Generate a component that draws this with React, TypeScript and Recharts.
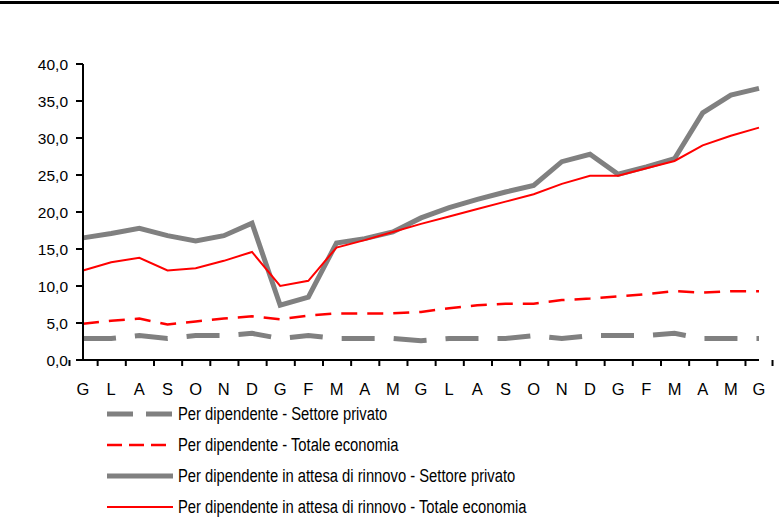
import React from 'react';
import { LineChart, Line, XAxis, YAxis } from 'recharts';

const mesi = ['G', 'L', 'A', 'S', 'O', 'N', 'D', 'G', 'F', 'M', 'A', 'M', 'G', 'L', 'A', 'S', 'O', 'N', 'D', 'G', 'F', 'M', 'A', 'M', 'G'];

// Per dipendente - Settore privato
const perDipPrivato = [2.9, 2.9, 3.3, 2.9, 3.3, 3.3, 3.6, 2.9, 3.3, 2.9, 2.9, 2.9, 2.6, 2.9, 2.9, 2.9, 3.3, 2.9, 3.3, 3.3, 3.3, 3.6, 2.9, 2.9, 2.9];
// Per dipendente - Totale economia
const perDipTotale = [4.9, 5.3, 5.6, 4.8, 5.2, 5.6, 5.9, 5.5, 6.0, 6.3, 6.3, 6.3, 6.5, 7.0, 7.4, 7.6, 7.6, 8.1, 8.3, 8.6, 8.9, 9.3, 9.1, 9.3, 9.3];
// Per dipendente in attesa di rinnovo - Settore privato
const attesaPrivato = [16.5, 17.1, 17.8, 16.8, 16.1, 16.8, 18.5, 7.4, 8.5, 15.8, 16.4, 17.3, 19.2, 20.6, 21.7, 22.7, 23.6, 26.8, 27.8, 25.1, 26.1, 27.2, 33.4, 35.8, 36.7];
// Per dipendente in attesa di rinnovo - Totale economia
const attesaTotale = [12.1, 13.2, 13.8, 12.1, 12.4, 13.4, 14.6, 10.0, 10.7, 15.2, 16.2, 17.3, 18.4, 19.4, 20.4, 21.4, 22.4, 23.8, 24.9, 24.9, 25.9, 26.9, 29.0, 30.3, 31.4];

const yTicks = [0, 5, 10, 15, 20, 25, 30, 35, 40];

const serie = [
  { key: 'perDipPrivato', name: 'Per dipendente - Settore privato', color: '#808080', width: 5, dash: '33 19', legendDash: '26 13' },
  { key: 'perDipTotale', name: 'Per dipendente - Totale economia', color: '#ff0000', width: 2.5, dash: '16 10', legendDash: '15 7' },
  { key: 'attesaPrivato', name: 'Per dipendente in attesa di rinnovo - Settore privato', color: '#808080', width: 5, dash: undefined, legendDash: undefined },
  { key: 'attesaTotale', name: 'Per dipendente in attesa di rinnovo - Totale economia', color: '#ff0000', width: 2, dash: undefined, legendDash: undefined },
];

const data = mesi.map((mese, i) => ({
  idx: i,
  mese,
  perDipPrivato: perDipPrivato[i],
  perDipTotale: perDipTotale[i],
  attesaPrivato: attesaPrivato[i],
  attesaTotale: attesaTotale[i],
}));

const W = 779;
const H = 528;
const margin = { top: 64, right: 20, left: 0, bottom: 138 };
const yAxisWidth = 83;
const band = (W - margin.left - margin.right - yAxisWidth) / mesi.length;

const font = '"Liberation Sans", Arial, sans-serif';

const MeseTick = (props: any) => {
  const { x, y, payload, index } = props;
  const half = band / 2;
  const last = index === mesi.length - 1;
  return (
    <g className="mese-tick">
      <path d={`M${x - half},${y}v6`} stroke="#000" strokeWidth={2} fill="none" />
      {last && <path d={`M${x + half},${y}v6`} stroke="#000" strokeWidth={2} fill="none" />}
      <text x={x} y={y + 35} textAnchor="middle" fontSize={16.5} fontFamily={font} fill="#000" stroke="none">
        {mesi[payload.value]}
      </text>
    </g>
  );
};

const Legenda = () => (
  <div style={{ position: 'absolute', left: 0, top: 399, width: W, height: 128 }}>
    {serie.map((s, i) => (
      <div
        key={s.key}
        style={{ position: 'absolute', left: 107, top: i * 31, height: 30, display: 'flex', alignItems: 'center' }}
      >
        <svg width={66} height={10} style={{ display: 'block' }}>
          <line x1={0} x2={66} y1={5} y2={5} stroke={s.color} strokeWidth={s.width} strokeDasharray={s.legendDash} />
        </svg>
        <span
          style={{
            marginLeft: 5,
            fontFamily: font,
            fontSize: 18,
            color: '#000',
            whiteSpace: 'nowrap',
            display: 'inline-block',
            transform: 'scaleX(0.82)',
            transformOrigin: 'left center',
          }}
        >
          {s.name}
        </span>
      </div>
    ))}
  </div>
);

export default function App() {
  return (
    <div style={{ position: 'absolute', left: 0, top: 0, width: W, height: H, background: '#fff' }}>
      <div style={{ position: 'absolute', left: 0, top: 1, width: W, height: 3, background: '#000' }} />
      <LineChart width={W} height={H} data={data} margin={margin}>
        <XAxis
          dataKey="idx"
          type="category"
          interval={0}
          tickLine={false}
          tickSize={0}
          tickMargin={0}
          axisLine={{ stroke: '#000', strokeWidth: 2 }}
          tick={<MeseTick />}
          height={30}
        />
        <YAxis
          width={yAxisWidth}
          domain={[0, 40]}
          ticks={yTicks}
          interval={0}
          tickFormatter={(v: number) => v.toFixed(1).replace('.', ',')}
          axisLine={{ stroke: '#000', strokeWidth: 2 }}
          tickLine={{ stroke: '#000', strokeWidth: 2 }}
          tickSize={7}
          tickMargin={8}
          tick={{ fill: '#000', fontSize: 15.5, fontFamily: font }}
        />
        {serie.map((s) => (
          <Line
            key={s.key}
            type="linear"
            dataKey={s.key}
            name={s.name}
            stroke={s.color}
            strokeWidth={s.width}
            strokeDasharray={s.dash}
            dot={false}
            activeDot={false}
            isAnimationActive={false}
          />
        ))}
      </LineChart>
      <Legenda />
    </div>
  );
}
